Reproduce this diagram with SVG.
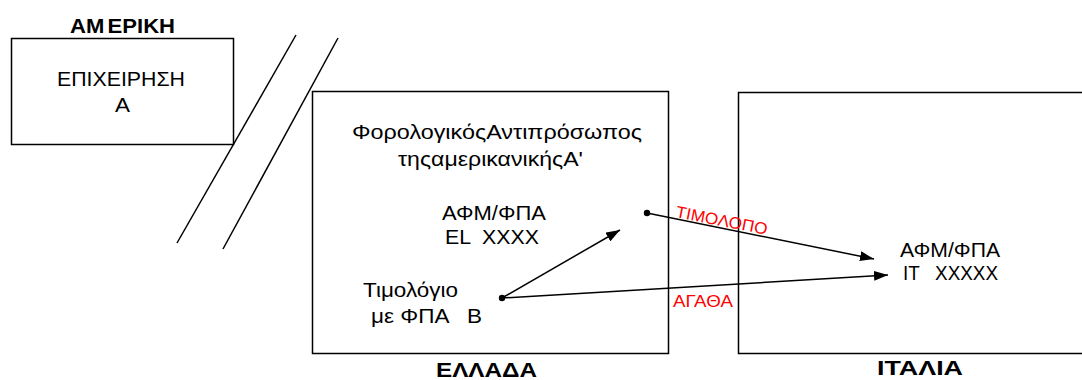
<svg xmlns="http://www.w3.org/2000/svg" width="1082" height="380" viewBox="0 0 1082 380">
  <style>
    .box { fill: #fff; stroke: #000; stroke-width: 1.5; }
    .t { font-family: "Liberation Sans", Arial, sans-serif; font-size: 21px; fill: #000; text-anchor: middle; }
    .h { font-family: "Liberation Sans", Arial, sans-serif; font-size: 20px; font-weight: bold; fill: #000; text-anchor: middle; }
    .red { font-family: "Liberation Sans", Arial, sans-serif; font-size: 16.5px; fill: #ff0000; }
    .ln { stroke: #000; stroke-width: 1.5; fill: none; }
  </style>
  <defs>
    <marker id="arr" viewBox="0 0 14 10" refX="14" refY="5" markerWidth="14" markerHeight="10" markerUnits="userSpaceOnUse" orient="auto">
      <path d="M0,0 L14,5 L0,10 Z" fill="#000"/>
    </marker>
  </defs>

  <rect width="1082" height="380" fill="#fff"/>

  <!-- border markers between continents -->
  <g id="ocean">
    <line class="ln" x1="296" y1="35" x2="177" y2="243"/>
    <line class="ln" x1="338" y1="38" x2="223" y2="249"/>
  </g>

  <g id="america">
    <text class="h" x="122.5" y="33" textLength="105" lengthAdjust="spacingAndGlyphs">ΑΜ<tspan dx="3">ΕΡΙΚΗ</tspan></text>
    <rect class="box" x="11.5" y="38.5" width="222" height="106" style="fill:none"/>
    <text class="t" x="121" y="86" textLength="128" lengthAdjust="spacingAndGlyphs">ΕΠΙΧΕΙΡΗΣΗ</text>
    <text class="t" x="122.5" y="112" textLength="15" lengthAdjust="spacingAndGlyphs">Α</text>
  </g>

  <g id="greece">
    <rect class="box" x="312.5" y="91.5" width="356" height="262"/>
    <text class="t" x="497" y="139" textLength="290" lengthAdjust="spacingAndGlyphs">ΦορολογικόςΑντιπρόσωπος</text>
    <text class="t" x="490.5" y="166" textLength="185" lengthAdjust="spacingAndGlyphs">τηςαμερικανικήςΑ'</text>
    <text class="t" x="494" y="220" textLength="104" lengthAdjust="spacingAndGlyphs">ΑΦΜ/ΦΠΑ</text>
    <text class="t" x="492" y="244" textLength="94" lengthAdjust="spacingAndGlyphs" xml:space="preserve">EL  XXXX</text>
    <text class="t" x="410.5" y="296.5" textLength="95" lengthAdjust="spacingAndGlyphs">Τιμολόγιο</text>
    <text class="t" x="426.5" y="323" textLength="111" lengthAdjust="spacingAndGlyphs" xml:space="preserve">με ΦΠΑ   Β</text>
    <text class="h" x="486.5" y="377" textLength="101" lengthAdjust="spacingAndGlyphs">ΕΛΛΑΔΑ</text>
  </g>

  <g id="italy">
    <rect class="box" x="738.5" y="92.5" width="360" height="261"/>
    <text class="t" x="950" y="257" textLength="100" lengthAdjust="spacingAndGlyphs">ΑΦΜ/ΦΠΑ</text>
    <text class="t" x="950.5" y="280" textLength="95" lengthAdjust="spacingAndGlyphs" xml:space="preserve">IT   XXXXX</text>
    <text class="h" x="920" y="375" textLength="86" lengthAdjust="spacingAndGlyphs">ΙΤΑΛΙΑ</text>
  </g>

  <g id="connectors">
    <line class="ln" x1="502" y1="298" x2="620" y2="230" marker-end="url(#arr)"/>
    <line class="ln" x1="647" y1="213" x2="874" y2="259" marker-end="url(#arr)"/>
    <line class="ln" x1="502" y1="298" x2="888" y2="275" marker-end="url(#arr)"/>
    <circle cx="502" cy="298" r="3.2" fill="#000"/>
    <circle cx="647" cy="213" r="3.2" fill="#000"/>
    <text class="red" x="675" y="217" transform="rotate(11 675 217)" textLength="93" lengthAdjust="spacingAndGlyphs">ΤΙΜΟΛΟΠΟ</text>
    <text class="red" x="673" y="307" textLength="60" lengthAdjust="spacingAndGlyphs">ΑΓΑΘΑ</text>
  </g>
</svg>
